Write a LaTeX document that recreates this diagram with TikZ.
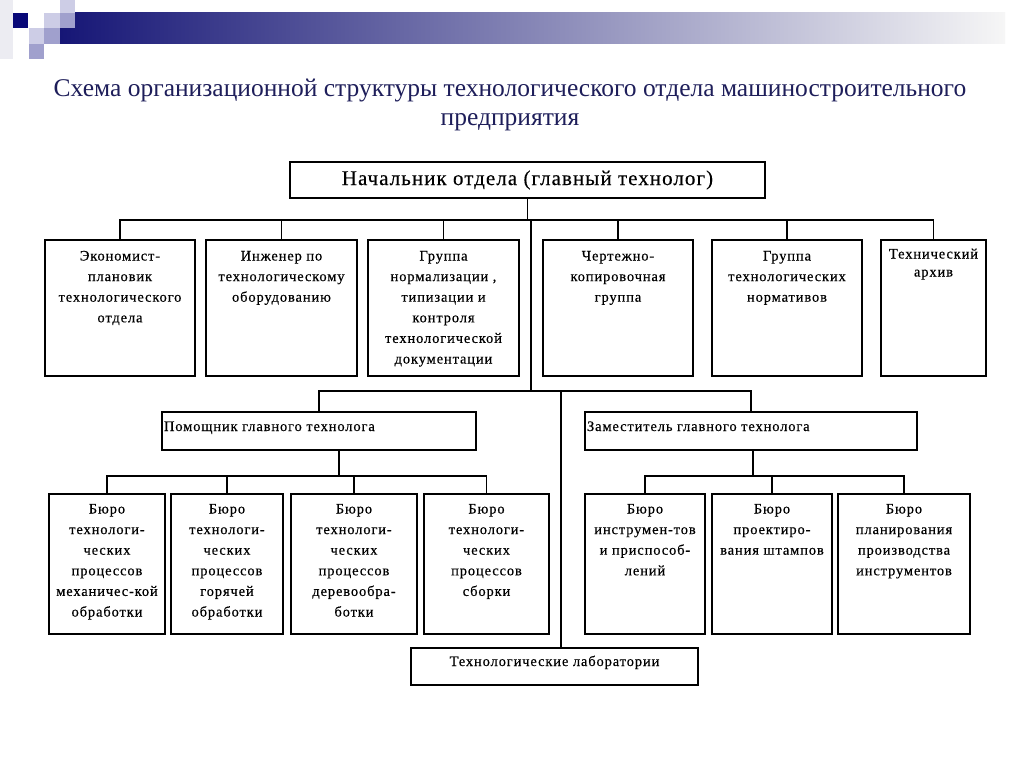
\documentclass[tikz,border=0pt]{standalone}
\usepackage{fontspec}
\setmainfont{Liberation Serif}
\newfontfamily\bxfont[LetterSpace=6,FakeBold=0.4]{Liberation Serif}
\newfontfamily\topfont[LetterSpace=5,FakeBold=0.3]{Liberation Serif}
\definecolor{titlecol}{RGB}{30,30,90}
\definecolor{barleft}{RGB}{22,22,118}
\definecolor{barmid}{RGB}{165,165,185}
\definecolor{barright}{RGB}{246,246,246}
\definecolor{sqdark}{RGB}{8,8,120}
\definecolor{sqlight}{RGB}{205,205,230}
\definecolor{sqmid}{RGB}{160,160,205}
\definecolor{sqfaint}{RGB}{236,236,242}
\newcommand\bxtxt[4]{\parbox[t][#2][t]{#1}{\centering\bxfont\fontsize{14.5}{20.6}\selectfont\rule{0pt}{#3}#4}}
\newcommand\bxleft[3]{\parbox[t][#2][t]{#1}{\raggedright\bxfont\fontsize{14.5}{20.6}\selectfont\hspace*{2pt}\rule{0pt}{19pt}#3}}
\begin{document}
\begin{tikzpicture}[x=1pt,y=-1pt,
  box/.style={draw=black, line width=1.6pt, inner sep=0pt},
  conn/.style={draw=black, line width=1.4pt, line cap=rect}]
\useasboundingbox (0,0) rectangle (1024,767);
\fill[white] (0,0) rectangle (1024,767);
% decoration
\fill[sqfaint] (0,0) rectangle (13,59);
\shade[left color=barleft, middle color=barmid, right color=barright] (60,13) rectangle (1005,44);
\fill[sqdark] (13,13) rectangle (28,28);
\fill[sqlight] (60,0) rectangle (75,13);
\fill[sqlight] (44,13) rectangle (60,28);
\fill[sqmid] (60,13) rectangle (75,28);
\fill[sqlight] (29,28) rectangle (44,44);
\fill[sqmid] (44,28) rectangle (60,44);
\fill[sqmid] (29,44) rectangle (44,59);
% title
\node[text=titlecol, font=\fontsize{25.5}{30}\selectfont] (title1) at (510,91) {Схема организационной структуры технологического отдела машиностроительного};
\node[text=titlecol, font=\fontsize{25.5}{30}\selectfont] (title2) at (510,122) {предприятия};
% top box
\node[box, minimum width=475pt, minimum height=36pt, font=\topfont\fontsize{21}{24}\selectfont] (top) at (527.5,180) {Начальник отдела (главный технолог)};
% row 1
\node[box] (e1) at (120,308) {\bxtxt{150pt}{136pt}{20.5pt}{Экономист-\\плановик\\технологического\\отдела}};
\node[box] (e2) at (281.5,308) {\bxtxt{151pt}{136pt}{20.5pt}{Инженер по\\технологическому\\оборудованию}};
\node[box] (e3) at (443.5,308) {\bxtxt{151pt}{136pt}{20.5pt}{Группа\\нормализации ,\\типизации и\\контроля\\технологической\\документации}};
\node[box] (e4) at (618,308) {\bxtxt{150pt}{136pt}{20.5pt}{Чертежно-\\копировочная\\группа}};
\node[box] (e5) at (787,308) {\bxtxt{150pt}{136pt}{20.5pt}{Группа\\технологических\\нормативов}};
\node[box] (e6) at (933.5,308) {\parbox[t][136pt][t]{105pt}{\centering\bxfont\fontsize{14.5}{18}\selectfont\rule{0pt}{18.5pt}Технический\\архив}};
% row 2
\node[box] (pom) at (319,431) {\bxleft{314pt}{38pt}{Помощник главного технолога}};
\node[box] (zam) at (751,431) {\bxleft{332pt}{38pt}{Заместитель главного технолога}};
% row 3
\node[box] (b1) at (107,564) {\bxtxt{116pt}{140pt}{19.5pt}{Бюро\\технологи-\\ческих\\процессов\\механичес-кой\\обработки}};
\node[box] (b2) at (227,564) {\bxtxt{112pt}{140pt}{19.5pt}{Бюро\\технологи-\\ческих\\процессов\\горячей\\обработки}};
\node[box] (b3) at (354,564) {\bxtxt{126pt}{140pt}{19.5pt}{Бюро\\технологи-\\ческих\\процессов\\деревообра-\\ботки}};
\node[box] (b4) at (486.5,564) {\bxtxt{125pt}{140pt}{19.5pt}{Бюро\\технологи-\\ческих\\процессов\\сборки}};
\node[box] (b5) at (645,564) {\bxtxt{120pt}{140pt}{19.5pt}{Бюро\\инструмен-тов\\и приспособ-\\лений}};
\node[box] (b6) at (772,564) {\bxtxt{120pt}{140pt}{19.5pt}{Бюро\\проектиро-\\вания штампов}};
\node[box] (b7) at (904,564) {\bxtxt{132pt}{140pt}{19.5pt}{Бюро\\планирования\\производства\\инструментов}};
% labs
\node[box] (lab) at (554.5,666.5) {\bxtxt{287pt}{37pt}{18pt}{Технологические лаборатории}};
% junctions
\coordinate (bus1) at (527.5,220);
\coordinate (j1) at (531,220);
\coordinate (bus2) at (531,391);
\coordinate (j2) at (561,391);
\coordinate (bus3) at (339,476);
\coordinate (bus4) at (753,476);
% connectors
\draw[conn] (top.south) -- (bus1);
\foreach \n in {e1,e2,e3,e4,e5,e6} \draw[conn] (\n.north) |- (bus1);
\draw[conn] (j1) -- (bus2);
\draw[conn] (pom.north) |- (bus2);
\draw[conn] (zam.north) |- (bus2);
\draw[conn] (j2) -- (lab.north -| j2);
\draw[conn] (pom.south -| bus3) -- (bus3);
\foreach \n in {b1,b2,b3,b4} \draw[conn] (\n.north) |- (bus3);
\draw[conn] (zam.south -| bus4) -- (bus4);
\foreach \n in {b5,b6,b7} \draw[conn] (\n.north) |- (bus4);
\end{tikzpicture}
\end{document}
